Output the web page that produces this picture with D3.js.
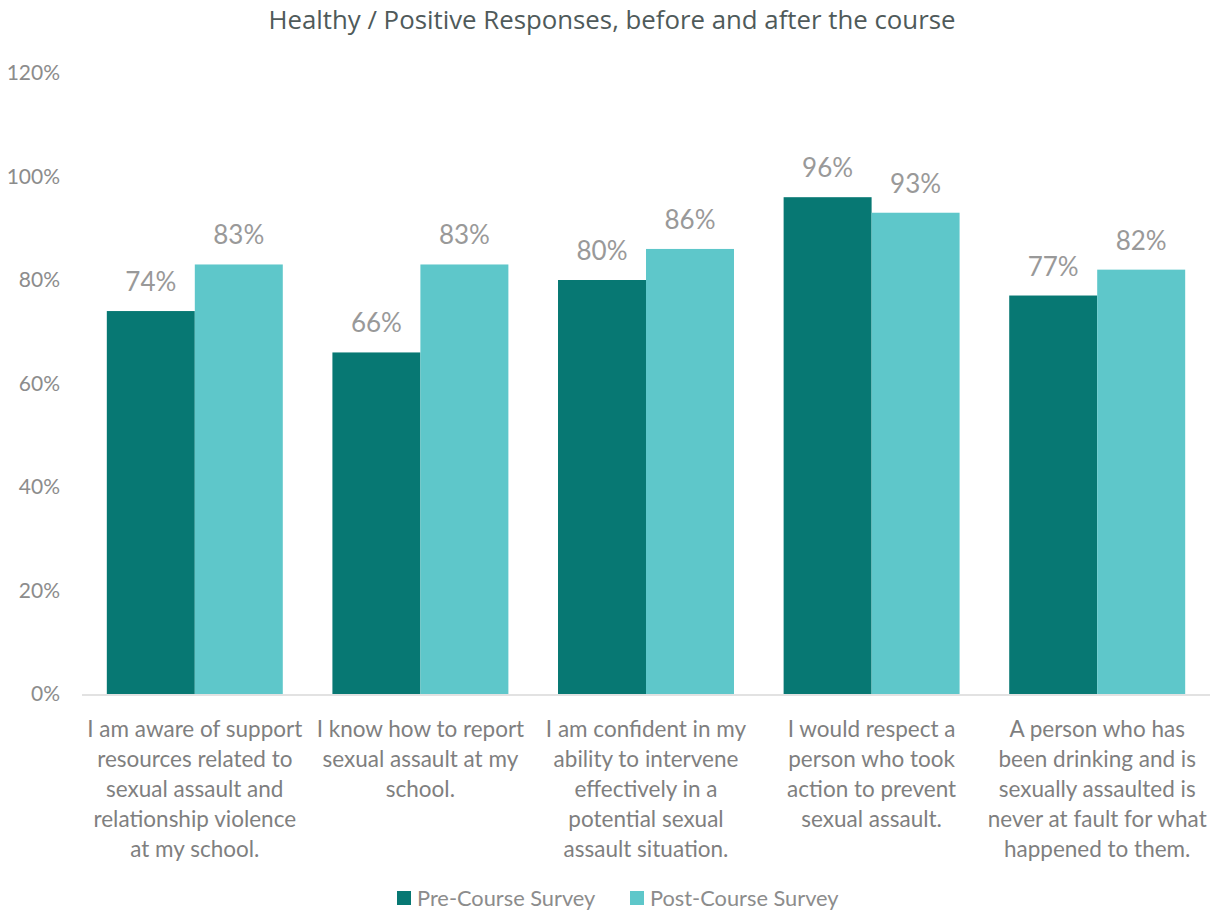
<!DOCTYPE html>
<html><head><meta charset="utf-8">
<script src="https://cdn.jsdelivr.net/npm/d3@7"></script>
<style>body{margin:0;background:#fff}svg{display:block}</style>
</head><body>
<script>
const categories = [
  ["I am aware of support","resources related to","sexual assault and","relationship violence","at my school."],
  ["I know how to report","sexual assault at my","school."],
  ["I am confident in my","ability to intervene","effectively in a","potential sexual","assault situation."],
  ["I would respect a","person who took","action to prevent","sexual assault."],
  ["A person who has","been drinking and is","sexually assaulted is","never at fault for what","happened to them."]
];
const seriesNames = ["Pre-Course Survey","Post-Course Survey"];
const preValues = [74,66,80,96,77];
const postValues = [83,83,86,93,82];
const yTicks = [0,20,40,60,80,100,120];
const colors = ["#077873","#5EC7CA"];

const W=1218,H=910;
const font="Lato, 'Open Sans', sans-serif";
const svg=d3.select("body").append("svg").attr("width",W).attr("height",H);
const x0=82,x1=1210,yTop=73,yBot=694;
const ids=categories.map((c,i)=>i);
const x=d3.scaleBand().domain(ids).range([x0,x1]).paddingInner(0.22).paddingOuter(0.11);
const xs=d3.scaleBand().domain([0,1]).range([0,x.bandwidth()]);
const y=d3.scaleLinear().domain([0,120]).range([yBot,yTop]);

svg.append("text").attr("x",612).attr("y",29).attr("text-anchor","middle")
  .attr("font-family","'Open Sans', sans-serif").attr("font-size",25.8).attr("fill","#4f5a5a")
  .text("Healthy / Positive Responses, before and after the course");

// y axis labels
const ya=svg.append("g").attr("transform",`translate(${x0-22},0)`)
  .call(d3.axisLeft(y).tickValues(yTicks).tickFormat(d=>d+"%").tickSize(0).tickPadding(0));
ya.select(".domain").remove();
ya.selectAll("text").attr("font-family",font).attr("font-size",21).attr("fill","#8c8c8c").attr("dy","0.32em");

// baseline
svg.append("line").attr("x1",x0).attr("x2",x1).attr("y1",y(0)+1).attr("y2",y(0)+1)
  .attr("stroke","#d9d9d9").attr("stroke-width",1.5);

const series=[preValues,postValues];
const g=svg.append("g");
series.forEach((vals,s)=>{
  g.selectAll(null).data(vals).enter().append("rect")
    .attr("x",(d,i)=>x(i)+xs(s)).attr("width",xs.bandwidth())
    .attr("y",d=>y(d)).attr("height",d=>y(0)-y(d)).attr("fill",colors[s]);
  g.selectAll(null).data(vals).enter().append("text")
    .attr("x",(d,i)=>x(i)+xs(s)+xs.bandwidth()/2).attr("y",d=>y(d)-20)
    .attr("text-anchor","middle").attr("font-family",font).attr("font-size",26)
    .attr("fill","#999999").text(d=>d+"%");
});

// category labels
const xa=svg.append("g");
categories.forEach((lines,i)=>{
  const t=xa.append("text").attr("text-anchor","middle").attr("font-family",font)
    .attr("font-size",22.5).attr("fill","#7f7f7f");
  lines.forEach((l,j)=>t.append("tspan").attr("x",x(i)+x.bandwidth()/2).attr("y",737+j*30).text(l));
});

// legend
const leg=svg.append("g");
const legX=[397,630];
seriesNames.forEach((n,i)=>{
  leg.append("rect").attr("x",legX[i]).attr("y",891).attr("width",14).attr("height",14).attr("fill",colors[i]);
  leg.append("text").attr("x",legX[i]+20).attr("y",906).attr("font-family",font).attr("font-size",21.8)
    .attr("fill","#8c8c8c").text(n);
});
</script>
</body></html>
